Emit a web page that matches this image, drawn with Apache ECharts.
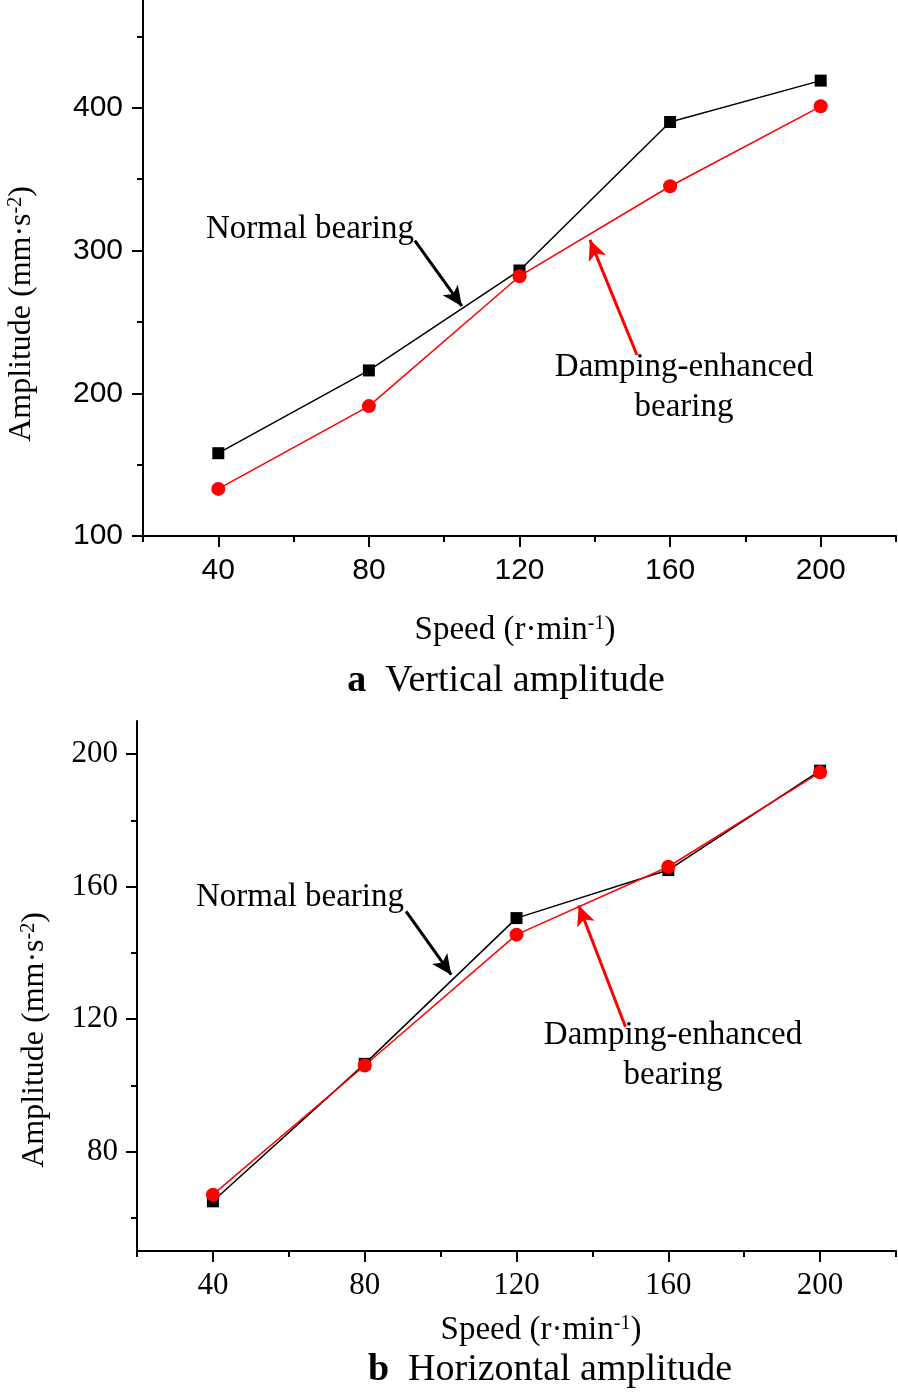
<!DOCTYPE html>
<html>
<head>
<meta charset="utf-8">
<script src="https://cdn.jsdelivr.net/npm/echarts@6/dist/echarts.min.js"></script>
<style>
html,body{margin:0;padding:0;background:#fff;}
#main{width:898px;height:1395px;}
</style>
</head>
<body>
<div id="main"></div>
<script>
// ---- data ----
const speeds = [40, 80, 120, 160, 200];
const vertNormal = [158, 216, 286, 390, 419];
const vertDamping = [133, 191, 282, 345, 401];
const horNormal = [65, 106.5, 150.5, 165, 195];
const horDamping = [67, 106, 145.5, 166, 194.5];
const xMajorTicks = [40, 80, 120, 160, 200];
const xMinorTicks = [20, 60, 100, 140, 180, 220];
const vertMajorTicks = [100, 200, 300, 400];
const vertMinorTicks = [150, 250, 350, 450];
const horMajorTicks = [80, 120, 160, 200];
const horMinorTicks = [60, 100, 140, 180];

const SERIF = "'Liberation Serif','Times New Roman',serif";
const SANS = "'Liberation Sans',Arial,sans-serif";

function pairs(xs, ys) { return xs.map((x, i) => [x, ys[i]]); }

function xAxes(gridIndex, font, size, margin) {
  return [
    { type: 'value', gridIndex, position: 'bottom', offset: 0, min: 20, max: 220, interval: 20,
      axisLine: { show: true, onZero: false, lineStyle: { color: '#000', width: 2 } },
      axisTick: { show: true, length: 6, lineStyle: { color: '#000', width: 2 }, customValues: xMinorTicks },
      axisLabel: { show: false }, splitLine: { show: false } },
    { type: 'value', gridIndex, position: 'bottom', offset: 0, min: 20, max: 220, interval: 20,
      axisLine: { show: false, onZero: false },
      axisTick: { show: true, length: 11, lineStyle: { color: '#000', width: 2 }, customValues: xMajorTicks },
      axisLabel: { show: true, margin, color: '#000', fontSize: size, fontFamily: font, customValues: xMajorTicks },
      splitLine: { show: false } }
  ];
}
function yAxes(gridIndex, min, max, minor, major, font, size, margin) {
  return [
    { type: 'value', gridIndex, position: 'left', offset: 0, min, max,
      axisLine: { show: true, onZero: false, lineStyle: { color: '#000', width: 2 } },
      axisTick: { show: true, length: 6, lineStyle: { color: '#000', width: 2 }, customValues: minor },
      axisLabel: { show: false }, splitLine: { show: false } },
    { type: 'value', gridIndex, position: 'left', offset: 0, min, max,
      axisLine: { show: false, onZero: false },
      axisTick: { show: true, length: 11, lineStyle: { color: '#000', width: 2 }, customValues: major },
      axisLabel: { show: true, margin, color: '#000', fontSize: size, fontFamily: font, customValues: major },
      splitLine: { show: false } }
  ];
}

function arrow(color, from, to) {
  return {
    silent: true, symbol: ['none', 'arrow'], symbolSize: [14, 20],
    lineStyle: { color, width: 3, type: 'solid' },
    label: { show: false }, emphasis: { disabled: true },
    data: [[{ coord: from }, { coord: to }]]
  };
}

const chart = echarts.init(document.getElementById('main'), null, { renderer: 'canvas' });

function txt(x, y, text, size, extra) {
  return Object.assign({
    type: 'text', x, y, silent: true,
    style: {
      text, fontFamily: SERIF, fontSize: size, fill: '#000', align: 'center', verticalAlign: 'middle',
      rich: {
        sup: { fontSize: 20, fontFamily: SERIF, verticalAlign: 'top', lineHeight: 20, padding: [0, 0, 16, 0] },
        b: { fontWeight: 'bold', fontFamily: SERIF, fontSize: size }
      }
    }
  }, extra || {});
}

chart.setOption({
  animation: false,
  backgroundColor: '#fff',
  grid: [
    { left: 143, top: -35, width: 753, height: 571, containLabel: false, outerBoundsMode: 'none' },
    { left: 137, top: 721, width: 759, height: 530, containLabel: false, outerBoundsMode: 'none' }
  ],
  xAxis: [...xAxes(0, SANS, 30, 20), ...xAxes(1, SERIF, 31, 19)],
  yAxis: [...yAxes(0, 100, 500, vertMinorTicks, vertMajorTicks, SANS, 30, 20), ...yAxes(1, 50, 210, horMinorTicks, horMajorTicks, SERIF, 31, 19)],
  series: [
    { name: 'Normal bearing (vertical)', type: 'line', xAxisIndex: 1, yAxisIndex: 1, data: pairs(speeds, vertNormal),
      symbol: 'rect', symbolSize: 12, itemStyle: { color: '#000' }, lineStyle: { color: '#000', width: 1.5 },
      markLine: arrow('#000', [92.2, 307], [104.7, 261]) },
    { name: 'Damping-enhanced bearing (vertical)', type: 'line', xAxisIndex: 1, yAxisIndex: 1, data: pairs(speeds, vertDamping),
      symbol: 'circle', symbolSize: 14, itemStyle: { color: '#ff0000' }, lineStyle: { color: '#ff0000', width: 1.5 },
      markLine: arrow('#ff0000', [151.2, 226.8], [138.7, 307.4]) },
    { name: 'Normal bearing (horizontal)', type: 'line', xAxisIndex: 3, yAxisIndex: 3, data: pairs(speeds, horNormal),
      symbol: 'rect', symbolSize: 12, itemStyle: { color: '#000' }, lineStyle: { color: '#000', width: 1.5 },
      markLine: arrow('#000', [90.9, 152.5], [102.8, 133.4]) },
    { name: 'Damping-enhanced bearing (horizontal)', type: 'line', xAxisIndex: 3, yAxisIndex: 3, data: pairs(speeds, horDamping),
      symbol: 'circle', symbolSize: 14, itemStyle: { color: '#ff0000' }, lineStyle: { color: '#ff0000', width: 1.5 },
      markLine: arrow('#ff0000', [148.7, 117.7], [136.4, 154.3]) }
  ],
  graphic: [
    txt(515, 630, 'Speed (r·min{sup|-1})', 33),
    txt(22, 314, 'Amplitude (mm·s{sup|-2})', 32, { rotation: Math.PI / 2 }),
    txt(506, 681, '{b|a}  Vertical amplitude', 38),
    txt(310, 229, 'Normal bearing', 33),
    txt(684, 367, 'Damping-enhanced', 33),
    txt(684, 407, 'bearing', 33),

    txt(541, 1330, 'Speed (r·min{sup|-1})', 33),
    txt(35, 1040, 'Amplitude (mm·s{sup|-2})', 32, { rotation: Math.PI / 2 }),
    txt(550, 1370, '{b|b}  Horizontal amplitude', 38),
    txt(300, 897, 'Normal bearing', 33),
    txt(673, 1035, 'Damping-enhanced', 33),
    txt(673, 1075, 'bearing', 33)
  ]
});
</script>
</body>
</html>
